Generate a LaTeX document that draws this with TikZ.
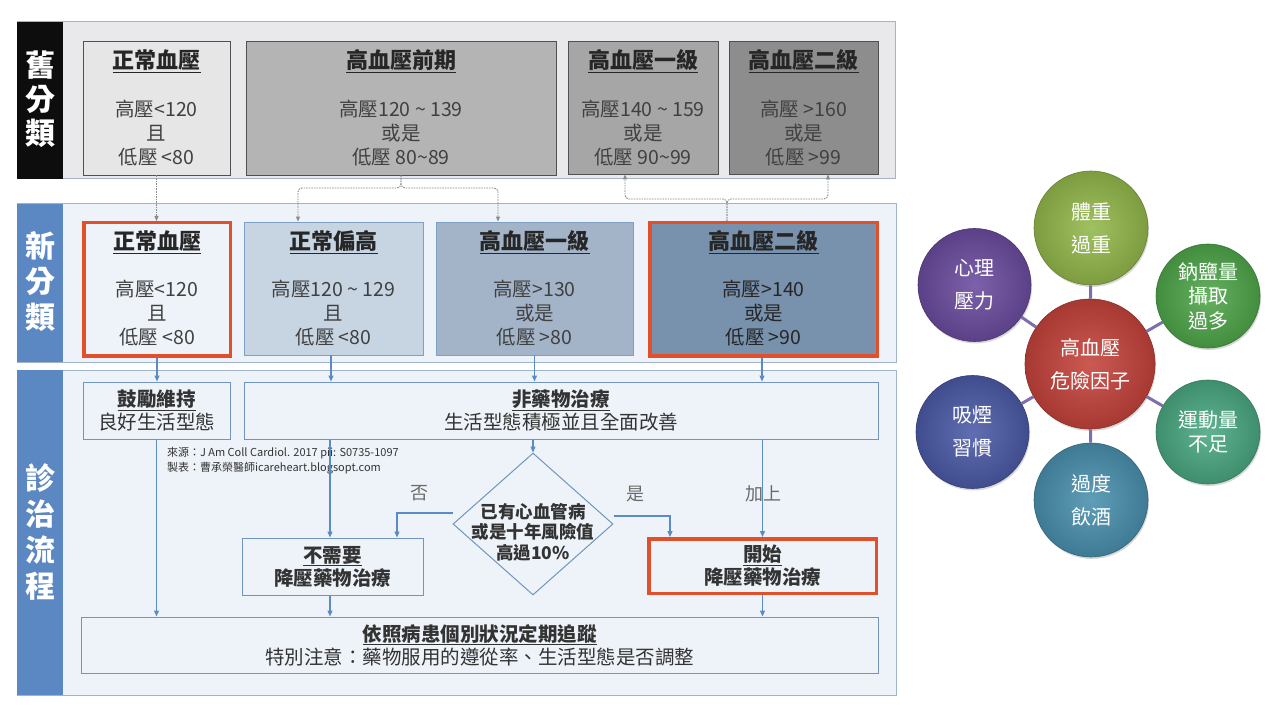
\documentclass[tikz,border=0pt]{standalone}
\usepackage{fontspec}
\setmainfont{Noto Sans CJK TC}
\usetikzlibrary{arrows.meta,shapes.geometric,shadows}
\definecolor{oldbg}{HTML}{E9E9EC}
\definecolor{oldborder}{HTML}{A7B3C2}
\definecolor{oldline}{HTML}{505050}
\definecolor{ofilla}{HTML}{E6E6E6}
\definecolor{ofillb}{HTML}{B4B4B4}
\definecolor{ofillc}{HTML}{A6A6A6}
\definecolor{ofilld}{HTML}{8D8D8D}
\definecolor{panelbg}{HTML}{EEF3F9}
\definecolor{panelborder}{HTML}{9FB3CC}
\definecolor{barblue}{HTML}{5B87C2}
\definecolor{nfillb}{HTML}{C7D5E3}
\definecolor{nfillc}{HTML}{A3B4C9}
\definecolor{nfilld}{HTML}{7891AD}
\definecolor{newline}{HTML}{7FA0C6}
\definecolor{redline}{HTML}{E1502A}
\definecolor{flowline}{HTML}{6F95C0}
\definecolor{arrowblue}{HTML}{5B8BC5}
\definecolor{dotgray}{HTML}{8A8A8A}
\definecolor{lblgray}{HTML}{6A6A6A}
\definecolor{cred}{HTML}{C4433B}
\definecolor{cgreena}{HTML}{93B84B}
\definecolor{cgreenb}{HTML}{4FA64A}
\definecolor{cteal}{HTML}{4AA882}
\definecolor{cblue}{HTML}{4A90AE}
\definecolor{cindigo}{HTML}{4B5AA6}
\definecolor{cpurple}{HTML}{6B4C9F}
\definecolor{bubline}{HTML}{7B6FAE}
\newcommand{\fsz}[2]{\fontsize{#1}{#2}\selectfont}
\begin{document}
\begin{tikzpicture}[x=1pt,y=-1pt,
  txt/.style={inner sep=0pt, outer sep=0pt, align=center},
  bartxt/.style={txt, text=white, font=\bfseries\fsz{30}{32}},
  oldbox/.style={draw=oldline, line width=0.8pt, inner sep=0pt},
  newbox/.style={draw=newline, line width=0.9pt, inner sep=0pt},
  redbox/.style={draw=redline, line width=3.5pt, inner sep=0pt},
  boxtitle/.style={txt, font=\bfseries\fsz{22}{26}, text=black!85},
  boxbody/.style={txt, font=\fsz{19.5}{24}, text=black!75},
  flowbox/.style={draw=flowline, line width=1pt, fill=panelbg, inner sep=0pt, align=center, font=\fsz{19.5}{23}, text=black!80},
  flow/.style={draw=arrowblue, line width=1.3pt, -{Triangle[length=6pt,width=5pt]}},
  dotarrow/.style={draw=dotgray, line width=0.9pt, dash pattern=on 1.6pt off 1pt, rounded corners=4pt, -{Triangle[length=5pt,width=4pt]}},
  lbl/.style={txt, font=\fsz{18}{20}, text=lblgray},
  bub/.style={circle, inner sep=0pt, align=center, text=white, font=\fsz{20}{33}, draw=#1!70!black, line width=0.6pt, inner color=#1!88!white, outer color=#1!85!black, drop shadow={opacity=0.3, shadow xshift=1pt, shadow yshift=-2pt}},
  bubcon/.style={draw=bubline, line width=3pt}
]
\fill[white] (0,0) rectangle (1280,719);
\useasboundingbox (0,0) rectangle (1280,719);

% panels
\draw[draw=oldborder, fill=oldbg, line width=1pt] (17,22) rectangle (895,179);
\fill[black!95] (17,22) rectangle (63,179);
\draw[draw=panelborder, fill=panelbg, line width=1pt] (17,204) rectangle (896,362);
\fill[barblue] (17,204) rectangle (63,362);
\draw[draw=panelborder, fill=panelbg, line width=1pt] (17,370) rectangle (896,695);
\fill[barblue] (17,370) rectangle (63,695);

\node[bartxt] (oa) at (40,65) {舊};
\node[bartxt] (ob) at (40,99) {分};
\node[bartxt] (oc) at (40,133) {類};
\node[bartxt] (na) at (40,246) {新};
\node[bartxt] (nb) at (40,281.5) {分};
\node[bartxt] (nc) at (40,317) {類};
\node[bartxt] (fa) at (40,478) {診};
\node[bartxt] (fb) at (40,514) {治};
\node[bartxt] (fc) at (40,550) {流};
\node[bartxt] (fd) at (40,586) {程};

% old boxes
\node[oldbox, fill=ofilla, minimum width=147pt, minimum height=134pt] (o1) at (156.5,108) {};
\node[oldbox, fill=ofillb, minimum width=310pt, minimum height=134pt] (o2) at (401,108) {};
\node[oldbox, fill=ofillc, minimum width=150pt, minimum height=133pt] (o3) at (643,107.5) {};
\node[oldbox, fill=ofilld, minimum width=149pt, minimum height=133pt] (o4) at (803.5,107.5) {};
\node[boxtitle] (o1t) at (156.5,61) {\underline{正常血壓}};
\node[boxbody] (o1b) at (156.5,133) {高壓<120\\且\\低壓 <80};
\node[boxtitle] (o2t) at (401,61) {\underline{高血壓前期}};
\node[boxbody] (o2b) at (401,133) {高壓120 \textasciitilde\ 139\\或是\\低壓 80\textasciitilde 89};
\node[boxtitle] (o3t) at (643,61) {\underline{高血壓一級}};
\node[boxbody] (o3b) at (643,133) {高壓140 \textasciitilde\ 159\\或是\\低壓 90\textasciitilde 99};
\node[boxtitle] (o4t) at (803.5,61) {\underline{高血壓二級}};
\node[boxbody] (o4b) at (803.5,133) {高壓 >160\\或是\\低壓 >99};

% new boxes
\node[redbox, fill=panelbg, minimum width=146.5pt, minimum height=133.5pt] (n1) at (157,289.5) {};
\node[newbox, fill=nfillb, minimum width=179pt, minimum height=133pt] (n2) at (333.5,288.5) {};
\node[newbox, fill=nfillc, minimum width=197pt, minimum height=133pt] (n3) at (534.5,288.5) {};
\node[redbox, fill=nfilld, minimum width=227.5pt, minimum height=133.5pt] (n4) at (763.5,289.5) {};
\node[boxtitle] (n1t) at (157,242) {\underline{正常血壓}};
\node[boxbody] (n1b) at (157,313) {高壓<120\\且\\低壓 <80};
\node[boxtitle] (n2t) at (333.5,242) {\underline{正常偏高}};
\node[boxbody] (n2b) at (333.5,313) {高壓120 \textasciitilde\ 129\\且\\低壓 <80};
\node[boxtitle] (n3t) at (534.5,242) {\underline{高血壓一級}};
\node[boxbody] (n3b) at (534.5,313) {高壓>130\\或是\\低壓 >80};
\node[boxtitle] (n4t) at (763.5,242) {\underline{高血壓二級}};
\node[boxbody, text=black!85] (n4b) at (763.5,313) {高壓>140\\或是\\低壓 >90};

% old -> new dotted connectors
\coordinate (brA) at (401,188);
\coordinate (brB) at (727,199);
\draw[dotarrow] (o1.south) -- (o1.south |- n1.north);
\draw[dotarrow] (o2.south) -- (brA) -| ([xshift=-35.5pt]n2.north);
\draw[dotarrow] (o2.south) -- (brA) -| ([xshift=-36.5pt]n3.north);
\draw[dotarrow] ([xshift=-36.5pt]n4.north) -- (brB) -| ([xshift=-18pt]o3.south);
\draw[dotarrow] ([xshift=-36.5pt]n4.north) -- (brB) -| ([xshift=24.5pt]o4.south);

% flow boxes
\node[flowbox, minimum width=147pt, minimum height=57pt] (b1) at (156.5,410.5) {\textbf{\underline{鼓勵維持}}\\良好生活型態};
\node[flowbox, minimum width=634pt, minimum height=57pt] (b2) at (561,410.5) {\textbf{\underline{非藥物治療}}\\生活型態積極並且全面改善};
\node[diamond, draw=flowline, line width=1pt, fill=panelbg, minimum width=160pt, minimum height=142pt, inner sep=0pt] (dia) at (533,524) {};
\node[txt, font=\bfseries\fsz{17.5}{20.5}, text=black!80] (diat) at (533,532) {已有心血管病\\或是十年風險值\\高過10\%};
\node[flowbox, minimum width=181pt, minimum height=57pt] (b3) at (332.5,566.5) {\textbf{\underline{不需要}}\\\textbf{降壓藥物治療}};
\node[flowbox, draw=redline, line width=3.5pt, minimum width=227.5pt, minimum height=54.5pt] (b4) at (762.5,566) {\textbf{\underline{開始}}\\\textbf{降壓藥物治療}};
\node[flowbox, minimum width=797pt, minimum height=56pt] (b5) at (479.5,645) {\textbf{\underline{依照病患個別狀況定期追蹤}}\\特別注意：藥物服用的遵從率、生活型態是否調整};

\node[txt, anchor=west, align=left, font=\fsz{11}{15.5}, text=black!80] (src) at (167,461) {來源：J Am Coll Cardiol. 2017 pii: S0735-1097\\製表：曹承榮醫師icareheart.blogsopt.com};

\node[lbl] (lno) at (419,493) {否};
\node[lbl] (lyes) at (635,494) {是};

% blue arrows
\draw[flow] (n1.south) -- (n1.south |- b1.north);
\draw[flow] ([xshift=-2.5pt]n2.south) -- ([xshift=-2.5pt]n2.south |- b2.north);
\draw[flow] (n3.south) -- (n3.south |- b2.north);
\draw[flow] ([xshift=-1.5pt]n4.south) -- ([xshift=-1.5pt]n4.south |- b2.north);
\draw[flow] (b1.south) -- (b1.south |- b5.north);
\draw[flow] ([xshift=-2.5pt]b3.north |- b2.south) -- ([xshift=-2.5pt]b3.north);
\draw[flow] (dia.north |- b2.south) -- (dia.north);
\draw[flow] (b4.north |- b2.south) -- (b4.north);
\draw[flow] ([yshift=11pt]dia.west) -| ([xshift=64.5pt]b3.north);
\draw[flow] ([yshift=8pt]dia.east) -| ([xshift=-92.5pt]b4.north);
\draw[flow] ([xshift=-2.5pt]b3.south) -- ([xshift=-2.5pt]b3.south |- b5.north);
\draw[flow] (b4.south) -- (b4.south |- b5.north);
\node[lbl] (ladd) at (763,494) {加上};

% bubble diagram
\node[bub=cred, minimum size=130pt] (C) at (1090,364) {高血壓\\危險因子};
\node[bub=cgreena, minimum size=114pt] (B1) at (1091,228) {體重\\過重};
\node[bub=cgreenb, minimum size=104pt, font=\fsz{20}{24.5}] (B2) at (1208,296) {鈉鹽量\\攝取\\過多};
\node[bub=cteal, minimum size=104pt, font=\fsz{20}{24.5}] (B3) at (1208,432) {運動量\\不足};
\node[bub=cblue, minimum size=114pt] (B4) at (1091,500) {過度\\飲酒};
\node[bub=cindigo, minimum size=113pt] (B5) at (972.5,432) {吸煙\\習慣};
\node[bub=cpurple, minimum size=113pt] (B6) at (974.5,285) {心理\\壓力};
\draw[bubcon] (C) -- (B1);
\draw[bubcon] (C) -- (B2);
\draw[bubcon] (C) -- (B3);
\draw[bubcon] (C) -- (B4);
\draw[bubcon] (C) -- (B5);
\draw[bubcon] (C) -- (B6);
\end{tikzpicture}
\end{document}
